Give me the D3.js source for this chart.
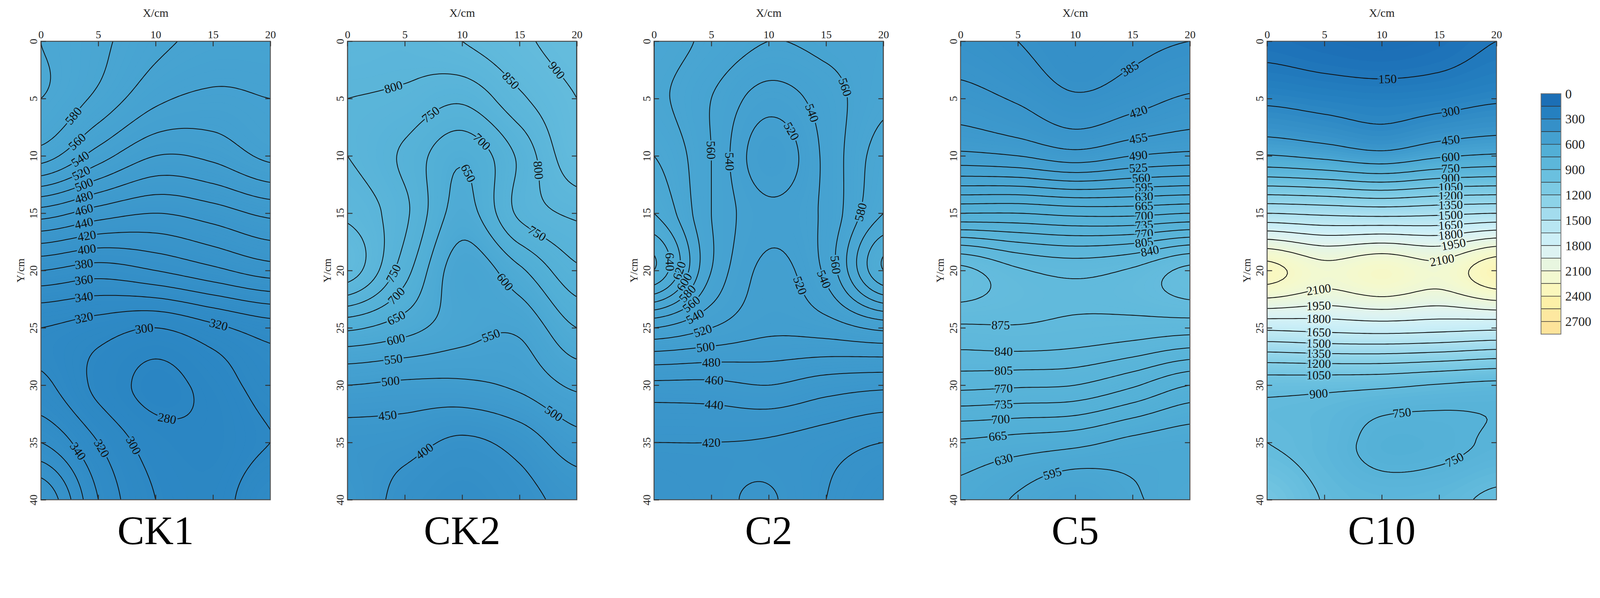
<!DOCTYPE html>
<html>
<head>
<meta charset="utf-8">
<script src="https://cdn.jsdelivr.net/npm/d3@7"></script>
<style>
  html, body { margin: 0; padding: 0; background: #fff; overflow: hidden; }
  svg { display: block; width: 100vw; height: 100vh; font-family: "Liberation Serif", "DejaVu Serif", serif; }
</style>
</head>
<body>
<svg id="chart" viewBox="0 0 4421 1532" preserveAspectRatio="xMidYMin meet"></svg>
<script>
// grid axes (cm)
const xs = [0, 5, 10, 15, 20];
const ys = [0, 5, 10, 15, 20, 25, 30, 35, 40];
const panelNames = ['CK1', 'CK2', 'C2', 'C5', 'C10'];
const lineSteps = [20, 50, 20, 35, 150];

// values, rows = y (0..40), cols = x (0..20)
const ck1 = [
  [600, 585, 565, 555, 555],
  [600, 575, 545, 535, 540],
  [570, 530, 500, 505, 525],
  [470, 450, 440, 450, 465],
  [380, 370, 380, 395, 410],
  [320, 310, 300, 315, 330],
  [325, 295, 274, 288, 310],
  [360, 320, 290, 285, 300],
  [420, 340, 300, 290, 320]
];
const ck2 = [
  [830, 820, 850, 890, 920],
  [800, 790, 760, 840, 900],
  [800, 740, 660, 760, 890],
  [840, 760, 630, 760, 810],
  [880, 720, 570, 640, 740],
  [660, 620, 570, 560, 650],
  [500, 490, 490, 510, 560],
  [430, 420, 390, 420, 480],
  [440, 380, 350, 380, 420]
];
const c2 = [
  [590, 575, 560, 565, 570],
  [585, 560, 530, 550, 575],
  [600, 560, 505, 545, 590],
  [620, 560, 525, 545, 600],
  [660, 560, 515, 545, 640],
  [540, 520, 505, 510, 525],
  [455, 455, 460, 450, 445],
  [420, 420, 418, 410, 400],
  [410, 415, 422, 400, 380]
];
const c5 = [
  [400, 385, 370, 378, 385],
  [435, 415, 390, 405, 425],
  [500, 490, 470, 490, 500],
  [700, 700, 690, 690, 700],
  [920, 880, 865, 880, 920],
  [870, 872, 865, 860, 855],
  [780, 775, 770, 740, 700],
  [660, 650, 640, 620, 610],
  [620, 590, 560, 590, 610]
];
const c10 = [
  [110, 80, 60, 90, 150],
  [270, 240, 220, 240, 280],
  [610, 560, 500, 580, 620],
  [1500, 1470, 1450, 1470, 1500],
  [2300, 2150, 2230, 2150, 2350],
  [1680, 1700, 1720, 1700, 1680],
  [960, 950, 930, 890, 860],
  [900, 830, 700, 710, 770],
  [1050, 890, 830, 850, 930]
];
const panelData = [ck1, ck2, c2, c5, c10];

// legend
const legendTicks = [0, 300, 600, 900, 1200, 1500, 1800, 2100, 2400, 2700];
const legendColors = ['#1c6fb6', '#2580c0', '#3590c8', '#44a0d0', '#52afd6', '#5cb6da',
  '#6ac0df', '#7ccae4', '#8dd3e8', '#a3dcee', '#b8e6f2', '#cceff7', '#ddf3f2',
  '#e8f6e0', '#f3f9d0', '#fbf7bc', '#fdf0a8', '#fde8a0', '#fde39a'];

// label anchors per panel: [level, x, y]
const labelSpots = [
  [[580, 3.5, 7], [560, 3.7, 9.5], [540, 3.8, 11], [520, 3.9, 12], [500, 3.9, 13], [480, 3.9, 14.2],
   [460, 3.9, 15.3], [440, 3.9, 16.5], [420, 4, 17.6], [400, 4, 18.7], [380, 3.9, 20], [360, 3.9, 21.3],
   [340, 3.9, 22.8], [320, 3.9, 24.5], [300, 9, 24], [320, 15.5, 24.5], [280, 11, 33], [340, 3.5, 35.5], [320, 5.5, 35.5], [300, 7.5, 35.5]],
  [[800, 4, 4], [750, 7, 6], [700, 11.5, 9], [650, 10.5, 11.5], [850, 13.5, 4], [900, 16, 4.5], [800, 14.5, 11.5],
   [750, 16.5, 17], [600, 13.5, 21], [550, 11.5, 23.5], [750, 3.8, 20.2], [700, 3.8, 21.8], [650, 3.8, 23.2],
   [600, 4, 25], [550, 3.8, 26.5], [500, 3.8, 29.5], [450, 3.5, 32.5], [400, 6.5, 35.5], [500, 16.5, 34.5]],
  [[560, 4.5, 9.5], [540, 6, 10.5], [520, 12.5, 7.5], [540, 14.5, 6], [560, 16.5, 4], [580, 16.5, 14.5],
   [560, 14.8, 19.5], [540, 14.5, 21], [520, 12.5, 21.5], [640, 3.5, 19], [620, 3.5, 20.5], [600, 3.5, 21.5], [580, 3.5, 22.5],
   [560, 3.7, 23.5], [540, 3.8, 24.5], [520, 4.5, 25.8], [500, 4.5, 26.8], [480, 5, 28.2], [460, 5.3, 29.7], [440, 5.3, 31.2], [420, 5, 35]],
  [[385, 15.5, 3.5], [420, 15.5, 6.5], [455, 15.5, 8.3], [490, 15.5, 10], [525, 15.5, 11], [560, 15.8, 11.8],
   [595, 16, 12.7], [630, 16, 13.5], [665, 16, 14.5], [700, 16, 15.3], [735, 16, 16], [770, 16, 17], [805, 16, 17.7],
   [840, 16.5, 18.7], [875, 3.5, 25], [840, 3.8, 27], [805, 3.8, 28.5], [770, 3.8, 30], [735, 3.8, 31.5], [700, 3.5, 33],
   [665, 3.2, 34.5], [630, 3.8, 36.3], [595, 7.5, 36]],
  [[150, 10.5, 3.5], [300, 16, 6], [450, 16, 8], [600, 16, 9.3], [750, 16, 10.3], [900, 16, 11.2], [1050, 16, 12],
   [1200, 16, 12.8], [1350, 16, 13.5], [1500, 16, 14.3], [1650, 16, 15], [1800, 16, 15.8], [1950, 16, 16.6],
   [2100, 15, 17.7], [2100, 4.5, 21.8], [1950, 4.5, 23], [1800, 4.5, 24], [1650, 4.5, 25], [1500, 4.5, 25.8],
   [1350, 4.5, 26.7], [1200, 4.5, 27.7], [1050, 4.5, 28.8], [900, 4.5, 30.6], [750, 11.5, 31], [750, 16, 35.7]]
];

const svg = d3.select('#chart');
const plotW = 634, plotH = 1268, plotTop = 114;
const panelLeft = i => 113 + i * 847;

const color = d3.scaleLinear()
  .domain(legendColors.map((c, i) => i * 150 + 75))
  .range(legendColors)
  .clamp(true);

// Catmull-Rom upsampling of the coarse grid for smooth contours
const NX = 81, NY = 161;
function cubic(p0, p1, p2, p3, t) {
  return 0.5 * ((2 * p1) + (-p0 + p2) * t + (2 * p0 - 5 * p1 + 4 * p2 - p3) * t * t + (-p0 + 3 * p1 - 3 * p2 + p3) * t * t * t);
}
function sample(grid, gx, gy) {
  const rows = grid.length, cols = grid[0].length;
  const at = (r, c) => grid[Math.max(0, Math.min(rows - 1, r))][Math.max(0, Math.min(cols - 1, c))];
  const c0 = Math.min(cols - 2, Math.floor(gx)), r0 = Math.min(rows - 2, Math.floor(gy));
  const tx = gx - c0, ty = gy - r0;
  const rowVals = [-1, 0, 1, 2].map(dr => cubic(at(r0 + dr, c0 - 1), at(r0 + dr, c0), at(r0 + dr, c0 + 1), at(r0 + dr, c0 + 2), tx));
  return cubic(rowVals[0], rowVals[1], rowVals[2], rowVals[3], ty);
}

panelData.forEach((grid, i) => {
  const x0 = panelLeft(i);
  const step = lineSteps[i];
  const xScale = d3.scaleLinear().domain([0, 20]).range([x0, x0 + plotW]);
  const yScale = d3.scaleLinear().domain([0, 40]).range([plotTop, plotTop + plotH]);

  const values = new Array(NX * NY);
  for (let r = 0; r < NY; r++) {
    for (let c = 0; c < NX; c++) {
      values[r * NX + c] = sample(grid, c / (NX - 1) * (xs.length - 1), r / (NY - 1) * (ys.length - 1));
    }
  }
  const ext = d3.extent(values);

  const gxScale = d3.scaleLinear().domain([0, NX - 1]).range([x0, x0 + plotW]);
  const gyScale = d3.scaleLinear().domain([0, NY - 1]).range([plotTop, plotTop + plotH]);
  const gx = v => gxScale(Math.min(NX - 1, Math.max(0, v - 0.5)));
  const gy = v => gyScale(Math.min(NY - 1, Math.max(0, v - 0.5)));
  const path = d3.geoPath(d3.geoTransform({
    point(x, y) { this.stream.point(gx(x), gy(y)); }
  }));

  const g = svg.append('g');
  g.append('clipPath').attr('id', 'clip' + i)
    .append('rect').attr('x', x0).attr('y', plotTop).attr('width', plotW).attr('height', plotH);
  const inner = g.append('g').attr('clip-path', `url(#clip${i})`);

  // filled shading (fine bands)
  const fillStep = step / 6;
  const fillTh = d3.range(Math.floor(ext[0] / fillStep) * fillStep, ext[1] + fillStep, fillStep);
  inner.append('rect').attr('x', x0).attr('y', plotTop).attr('width', plotW).attr('height', plotH)
    .attr('fill', color(ext[0]));
  inner.selectAll('path.fill')
    .data(d3.contours().size([NX, NY]).thresholds(fillTh)(values))
    .join('path')
    .attr('class', 'fill')
    .attr('d', path)
    .attr('fill', d => color(d.value + fillStep / 2))
    .attr('stroke', d => color(d.value + fillStep / 2))
    .attr('stroke-width', 0.6);

  // contour lines
  const lineTh = d3.range(Math.ceil(ext[0] / step) * step, ext[1], step);
  const lines = d3.contours().size([NX, NY]).thresholds(lineTh)(values);
  inner.selectAll('path.line')
    .data(lines)
    .join('path')
    .attr('class', 'line')
    .attr('d', path)
    .attr('fill', 'none')
    .attr('stroke', '#111')
    .attr('stroke-width', 2.2);

  // contour labels
  labelSpots[i].forEach(([lev, lx, ly]) => {
    const ml = lines.find(l => l.value === lev);
    if (!ml) return;
    const tx = xScale(lx), ty = yScale(ly);
    let best = null, bd = Infinity;
    ml.coordinates.forEach(poly => poly.forEach(ring => {
      ring.forEach((p, k) => {
        const px = gx(p[0]), py = gy(p[1]);
        const d = (px - tx) ** 2 + (py - ty) ** 2;
        if (d < bd && px > x0 + 4 && px < x0 + plotW - 4 && py > plotTop + 4 && py < plotTop + plotH - 4) {
          bd = d;
          const q0 = ring[Math.max(0, k - 2)], q1 = ring[Math.min(ring.length - 1, k + 2)];
          best = { px, py, dx: gx(q1[0]) - gx(q0[0]), dy: gy(q1[1]) - gy(q0[1]) };
        }
      });
    }));
    if (!best || bd > 120 * 120) return;
    let ang = Math.atan2(best.dy, best.dx) * 180 / Math.PI;
    if (ang > 90) ang -= 180;
    if (ang < -90) ang += 180;
    inner.append('text')
      .attr('transform', `translate(${best.px},${best.py}) rotate(${ang})`)
      .attr('text-anchor', 'middle')
      .attr('dy', '0.35em')
      .attr('font-size', 34)
      .attr('fill', '#111')
      .attr('stroke', color(lev))
      .attr('stroke-width', 9)
      .attr('paint-order', 'stroke')
      .text(lev);
  });

  // frame and axes
  g.append('rect').attr('x', x0).attr('y', plotTop).attr('width', plotW).attr('height', plotH)
    .attr('fill', 'none').attr('stroke', '#555').attr('stroke-width', 2.5);

  g.append('g').attr('transform', `translate(0,${plotTop})`)
    .call(d3.axisTop(xScale).tickValues([0, 5, 10, 15, 20]).tickSizeInner(-14).tickSizeOuter(0).tickPadding(8));
  g.append('g').attr('transform', `translate(0,${plotTop + plotH})`)
    .call(d3.axisBottom(xScale).tickValues([5, 10, 15]).tickSizeInner(-14).tickSizeOuter(0).tickFormat(''));
  const leftAxis = g.append('g').attr('transform', `translate(${x0},0)`)
    .call(d3.axisLeft(yScale).tickValues(d3.range(0, 41, 5)).tickSizeInner(-14).tickSizeOuter(0).tickPadding(6));
  g.append('g').attr('transform', `translate(${x0 + plotW},0)`)
    .call(d3.axisRight(yScale).tickValues(d3.range(5, 40, 5)).tickSizeInner(-14).tickSizeOuter(0).tickFormat(''));
  g.selectAll('.domain').remove();
  g.selectAll('.tick line').attr('stroke', '#333').attr('stroke-width', 2.5);
  g.selectAll('.tick text').attr('font-size', 30).attr('fill', '#222').attr('font-family', '"Liberation Serif", serif');
  leftAxis.selectAll('.tick text')
    .attr('transform', 'rotate(-90)')
    .attr('x', 0).attr('y', -10).attr('dy', 0)
    .attr('text-anchor', 'middle');

  g.append('text').attr('x', x0 + plotW / 2).attr('y', 46)
    .attr('text-anchor', 'middle').attr('font-size', 32).attr('fill', '#222').text('X/cm');
  g.append('text').attr('transform', `translate(${x0 - 46},${yScale(20)}) rotate(-90)`)
    .attr('text-anchor', 'middle').attr('font-size', 30).attr('fill', '#222').text('Y/cm');
  g.append('text').attr('x', x0 + plotW / 2).attr('y', 1505)
    .attr('text-anchor', 'middle').attr('font-size', 112).attr('fill', '#000').text(panelNames[i]);
});

// colour legend
const legX = 4258, legW = 55, legTop = 259, legH = 665;
const legScale = d3.scaleLinear().domain([0, 2850]).range([legTop, legTop + legH]);
const leg = svg.append('g');
leg.selectAll('rect')
  .data(legendColors)
  .join('rect')
  .attr('x', legX)
  .attr('y', (d, k) => legScale(k * 150))
  .attr('width', legW)
  .attr('height', legScale(150) - legScale(0))
  .attr('fill', d => d)
  .attr('stroke', '#333')
  .attr('stroke-width', 1.5);
leg.append('rect').attr('x', legX).attr('y', legTop).attr('width', legW).attr('height', legH)
  .attr('fill', 'none').attr('stroke', '#777').attr('stroke-width', 2);
leg.selectAll('text')
  .data(legendTicks)
  .join('text')
  .attr('x', legX + legW + 12)
  .attr('y', d => legScale(d))
  .attr('dy', '0.35em')
  .attr('font-size', 36)
  .attr('fill', '#222')
  .text(d => d);
</script>
</body>
</html>
